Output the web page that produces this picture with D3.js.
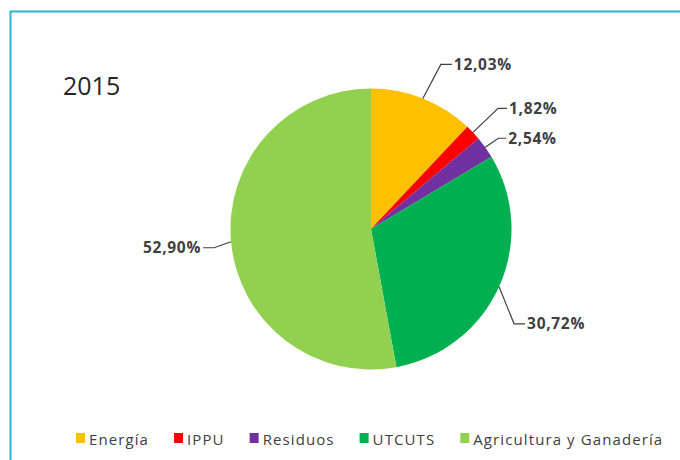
<!DOCTYPE html>
<html>
<head>
<meta charset="utf-8">
<script src="https://cdn.jsdelivr.net/npm/d3@7"></script>
<style>
  body { margin: 0; background: #fff; }
  svg { display: block; }
</style>
</head>
<body>
<div id="chart"></div>
<script>
// data
var title = "2015";
var categories = ["Energía", "IPPU", "Residuos", "UTCUTS", "Agricultura y Ganadería"];
var values = [12.03, 1.82, 2.54, 30.72, 52.90];
var labels = ["12,03%", "1,82%", "2,54%", "30,72%", "52,90%"];
var colors = ["#FFC000", "#FF0000", "#7030A0", "#00B050", "#92D050"];

// layout of the leader lines: elbow offset from the slice edge and length of the flat part
var leader = [
    { dx: 18, dy: -34, run: 11, side: 1 },
    { dx: 25, dy: -24, run: 9, side: 1 },
    { dx: 13, dy: -9, run: 8, side: 1 },
    { dx: 15, dy: 37, run: 11, side: 1 },
    { dx: -17, dy: 6, run: 11, side: -1 }
];

var width = 680, height = 460;
var cx = 371, cy = 229, r = 140.5;

var svg = d3.select("#chart")
    .append("svg")
    .attr("width", width)
    .attr("height", height);

// frame (cropped on the right and bottom)
svg.append("path")
    .attr("d", "M10.5," + (height + 5) + "V11.5H" + (width + 5))
    .attr("fill", "none")
    .attr("stroke", "#2fb4d6")
    .attr("stroke-width", 2);

svg.append("text")
    .attr("x", 63)
    .attr("y", 95)
    .attr("font-family", "Open Sans")
    .attr("font-size", 25)
    .attr("fill", "#262626")
    .text(title);

var table = categories.map(function (c, i) {
    return { name: c, value: values[i], label: labels[i], color: colors[i], lead: leader[i] };
});

var pie = d3.pie()
    .sort(null)
    .value(function (d) { return d.value; });

var arc = d3.arc().innerRadius(0).outerRadius(r);
var edge = d3.arc().innerRadius(r).outerRadius(r);

var g = svg.append("g")
    .attr("transform", "translate(" + cx + "," + cy + ")");

var slices = pie(table);

g.selectAll("path.slice")
    .data(slices)
    .enter().append("path")
    .attr("class", "slice")
    .attr("d", arc)
    .attr("fill", function (d) { return d.data.color; });

// leader lines and labels
slices.forEach(function (d) {
    var p = edge.centroid(d);
    var L = d.data.lead;
    var ex = p[0] + L.dx, ey = p[1] + L.dy;
    var hx = ex + L.side * L.run;
    g.append("path")
        .attr("d", "M" + p[0] + "," + p[1] + "L" + ex + "," + ey + "H" + hx)
        .attr("fill", "none")
        .attr("stroke", "#404040")
        .attr("stroke-width", 1.2);
    g.append("text")
        .attr("x", hx + L.side * 2)
        .attr("y", ey + 5.5)
        .attr("text-anchor", L.side > 0 ? "start" : "end")
        .attr("font-family", "Open Sans")
        .attr("font-weight", "bold")
        .attr("font-size", 15.5)
        .attr("letter-spacing", 0.7)
        .attr("fill", "#404040")
        .text(d.data.label);
});

// legend
var legend = svg.append("g").attr("transform", "translate(76,0)");
var lx = 0;
table.forEach(function (d) {
    legend.append("rect")
        .attr("x", lx)
        .attr("y", 433)
        .attr("width", 9)
        .attr("height", 10)
        .attr("fill", d.color);
    var t = legend.append("text")
        .attr("x", lx + 13)
        .attr("y", 444.5)
        .attr("font-family", "Open Sans")
        .attr("font-size", 15)
        .attr("letter-spacing", 1.1)
        .attr("fill", "#404040")
        .text(d.name);
    lx += 13 + t.node().getComputedTextLength() + 25;
});
</script>
</body>
</html>
